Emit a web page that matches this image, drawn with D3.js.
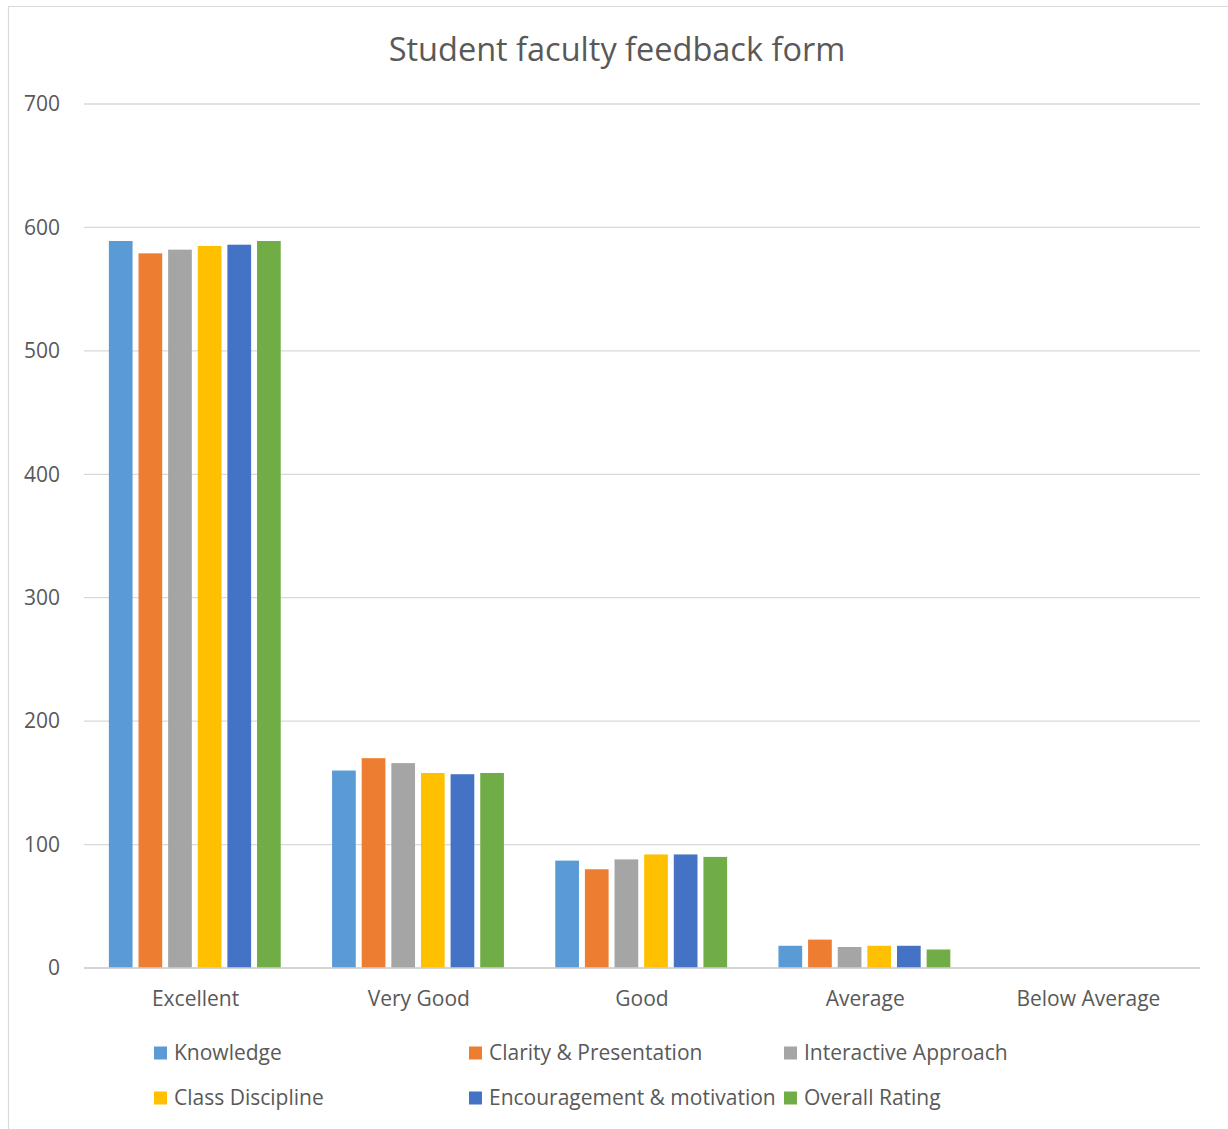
<!DOCTYPE html>
<html>
<head>
<meta charset="utf-8">
<script src="https://cdn.jsdelivr.net/npm/d3@7"></script>
<style>
  body { margin: 0; background: #fff; }
  svg { display: block; font-family: "Open Sans", "Liberation Sans", sans-serif; }
</style>
</head>
<body>
<div id="chart"></div>
<script>
// ── data ──
const categories = ["Excellent", "Very Good", "Good", "Average", "Below Average"];
const seriesNames = ["Knowledge", "Clarity & Presentation", "Interactive Approach",
                     "Class Discipline", "Encouragement & motivation", "Overall Rating"];
const seriesColors = ["#5B9BD5", "#ED7D31", "#A5A5A5", "#FFC000", "#4472C4", "#70AD47"];
const knowledge     = [589, 160, 87, 18, 0];
const clarity       = [579, 170, 80, 23, 0];
const interactive   = [582, 166, 88, 17, 0];
const discipline    = [585, 158, 92, 18, 0];
const encouragement = [586, 157, 92, 18, 0];
const overall       = [589, 158, 90, 15, 0];
const yTicks = [0, 100, 200, 300, 400, 500, 600, 700];

const seriesValues = [knowledge, clarity, interactive, discipline, encouragement, overall];

const width = 1228, height = 1129;
const margin = { left: 84, right: 28, top: 104, bottom: 161 };

const svg = d3.select("#chart").append("svg")
  .attr("width", width)
  .attr("height", height);

// chart frame
svg.append("path")
  .attr("d", `M8.5,${height} V6.5 H${width}`)
  .attr("fill", "none")
  .attr("stroke", "#d9d9d9")
  .attr("stroke-width", 1.2);

const x0 = d3.scaleBand()
  .domain(categories)
  .range([margin.left, width - margin.right])
  .paddingInner(0.23)
  .paddingOuter(0.115);

const x1 = d3.scaleBand()
  .domain(seriesNames)
  .range([0, x0.bandwidth()])
  .paddingInner(0.2);

const y = d3.scaleLinear()
  .domain([0, 700])
  .range([height - margin.bottom, margin.top]);

// gridlines
svg.append("g")
  .selectAll("line")
  .data(yTicks)
  .join("line")
  .attr("x1", margin.left).attr("x2", width - margin.right)
  .attr("y1", (d) => y(d)).attr("y2", (d) => y(d))
  .attr("stroke", "#d9d9d9")
  .attr("stroke-width", 1.3);

// y labels
svg.append("g")
  .selectAll("text")
  .data(yTicks)
  .join("text")
  .attr("x", 60)
  .attr("y", (d) => y(d))
  .attr("dy", "0.35em")
  .attr("text-anchor", "end")
  .attr("fill", "#595959")
  .attr("font-size", 21)
  .text((d) => d);

// bars
const groups = svg.append("g")
  .selectAll("g")
  .data(categories)
  .join("g")
  .attr("transform", (c) => `translate(${x0(c)},0)`);

groups.selectAll("rect")
  .data((c, i) => seriesNames.map((s, j) => ({ s, j, v: seriesValues[j][i] })))
  .join("rect")
  .filter((d) => d.v > 0)
  .attr("x", (d) => x1(d.s) - 0.8)
  .attr("width", x1.bandwidth())
  .attr("y", (d) => y(d.v))
  .attr("height", (d) => y(0) - y(d.v))
  .attr("fill", (d) => seriesColors[d.j]);

// x axis line
svg.append("line")
  .attr("x1", margin.left).attr("x2", width - margin.right)
  .attr("y1", y(0)).attr("y2", y(0))
  .attr("stroke", "#d0d0d0")
  .attr("stroke-width", 1.5);

// x labels
svg.append("g")
  .selectAll("text")
  .data(categories)
  .join("text")
  .attr("x", (c) => x0(c) + x0.bandwidth() / 2)
  .attr("y", 999)
  .attr("dy", "0.35em")
  .attr("text-anchor", "middle")
  .attr("fill", "#595959")
  .attr("font-size", 21)
  .text((c) => c);

// title
svg.append("text")
  .attr("x", 617)
  .attr("y", 50)
  .attr("dy", "0.35em")
  .attr("text-anchor", "middle")
  .attr("fill", "#595959")
  .attr("font-size", 32.5)
  .text("Student faculty feedback form");

// legend
const legend = svg.append("g")
  .selectAll("g")
  .data(seriesNames)
  .join("g")
  .attr("transform", (d, i) => `translate(${154 + (i % 3) * 315},${1053 + Math.floor(i / 3) * 45})`);

legend.append("rect")
  .attr("x", 0).attr("y", -6.5)
  .attr("width", 13).attr("height", 13)
  .attr("fill", (d, i) => seriesColors[i]);

legend.append("text")
  .attr("x", 20)
  .attr("y", 0)
  .attr("dy", "0.35em")
  .attr("fill", "#595959")
  .attr("font-size", 21)
  .text((d) => d);
</script>
</body>
</html>
